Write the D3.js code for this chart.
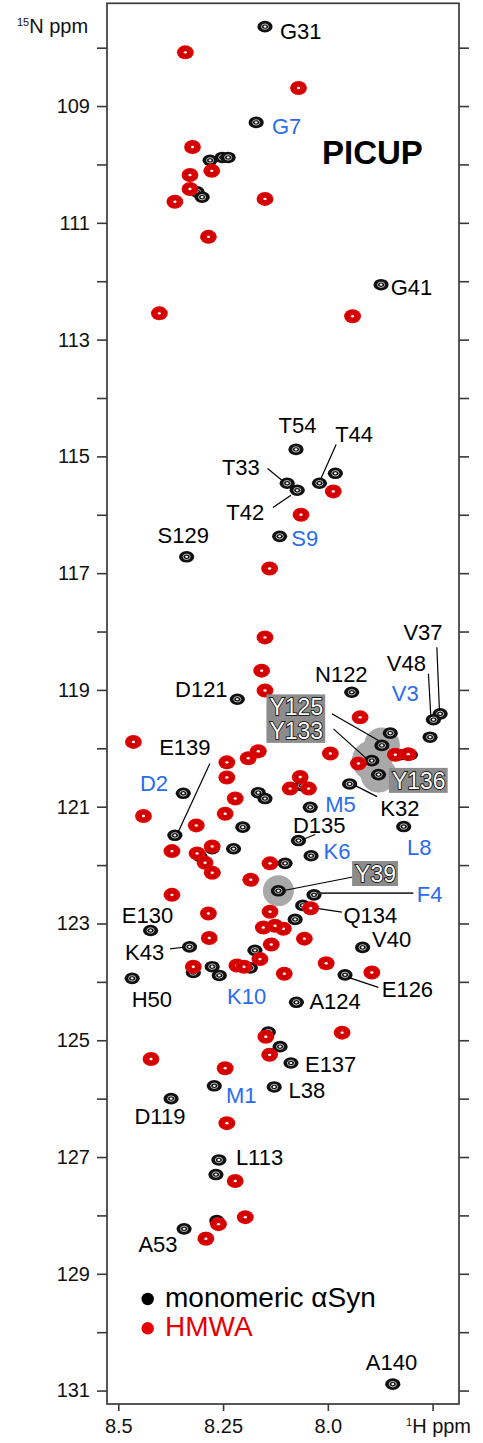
<!DOCTYPE html>
<html>
<head>
<meta charset="utf-8">
<script src="https://cdn.jsdelivr.net/npm/d3@7"></script>
<style>
  body { margin: 0; background: #fff; }
  svg { display: block; }
  text { font-family: "Liberation Sans", Arial, sans-serif; }
</style>
</head>
<body>
<svg id="chart" width="483" height="1443"></svg>
<script>
// 1H / 15N peak positions (ppm)
const monomerPeaks = [
  [8.150, 107.64], [8.171, 109.28], [8.323, 109.70], [8.281, 109.93], [8.252, 109.88],
  [8.238, 109.88], [8.277, 110.11], [8.329, 110.18], [8.329, 110.42], [8.312, 110.47],
  [8.300, 110.56], [8.365, 110.64], [8.150, 110.59], [8.285, 111.24], [7.873, 112.06],
  [8.402, 112.55], [7.941, 112.60], [8.076, 114.88], [8.097, 115.46], [8.073, 115.58],
  [8.020, 115.46], [7.982, 115.29], [7.987, 115.59], [8.064, 116.00], [8.115, 116.37],
  [8.139, 116.92], [8.337, 116.72], [8.150, 118.10], [8.158, 118.67], [8.150, 119.01],
  [8.216, 119.16], [7.943, 119.04], [7.732, 119.41], [7.748, 119.51], [7.756, 119.81],
  [7.923, 119.47], [7.851, 119.74], [7.871, 119.95], [7.827, 120.11], [7.803, 120.11],
  [7.895, 120.21], [7.879, 120.45], [7.948, 120.61], [7.927, 120.26], [7.994, 120.09],
  [8.062, 120.64], [8.042, 121.01], [7.819, 121.34], [8.070, 121.58], [8.040, 121.84],
  [8.464, 119.89], [8.241, 120.24], [8.241, 120.50], [8.345, 120.77], [8.221, 120.86],
  [8.166, 120.76], [8.150, 120.86], [8.440, 121.16], [8.245, 121.12], [8.203, 121.35],
  [8.314, 121.32], [8.365, 121.49], [8.372, 121.76], [8.305, 121.85], [8.276, 121.72],
  [8.274, 122.13], [8.225, 121.72], [8.138, 121.97], [8.102, 121.97], [8.184, 122.25],
  [8.118, 122.44], [8.033, 122.51], [8.060, 122.69], [8.372, 122.51], [8.285, 122.83],
  [8.423, 123.12], [8.330, 123.40], [8.283, 123.25], [8.138, 122.80], [8.078, 122.93],
  [8.154, 123.07], [8.107, 123.09], [8.135, 123.36], [8.174, 123.46], [7.917, 123.41],
  [8.321, 123.74], [8.321, 123.84], [8.276, 123.74], [8.259, 123.89], [8.467, 123.94],
  [8.217, 123.72], [8.185, 123.76], [8.162, 123.61], [7.959, 123.88], [7.895, 123.84],
  [8.075, 124.35], [8.142, 124.86], [8.114, 125.11], [8.138, 125.23], [7.966, 124.87],
  [8.422, 125.32], [8.088, 125.39], [8.245, 125.48], [8.271, 125.78], [8.128, 125.80],
  [8.374, 126.00], [8.241, 126.42], [8.260, 127.05], [8.267, 127.30], [8.221, 127.41],
  [8.343, 128.23], [8.265, 128.09], [8.197, 128.03], [8.291, 128.38], [7.845, 130.89]
];

const hmwaPeaks = [
  [8.340, 108.08], [8.070, 108.69], [8.323, 109.70], [8.277, 110.11], [8.329, 110.18],
  [8.329, 110.42], [8.365, 110.64], [8.150, 110.59], [8.285, 111.24], [8.402, 112.55],
  [7.941, 112.60], [7.987, 115.60], [8.064, 116.00], [8.139, 116.92], [8.150, 118.10],
  [8.158, 118.67], [8.150, 119.01], [7.923, 119.47], [7.839, 120.11], [7.808, 120.10],
  [7.927, 120.26], [7.994, 120.09], [8.090, 120.69], [8.066, 120.49], [8.046, 120.69],
  [8.464, 119.89], [8.190, 120.17], [8.166, 120.05], [8.241, 120.24], [8.241, 120.50],
  [8.221, 120.86], [8.440, 121.16], [8.245, 121.12], [8.314, 121.32], [8.372, 121.76],
  [8.312, 121.80], [8.276, 121.68], [8.276, 122.13], [8.293, 121.96], [8.138, 121.97],
  [8.184, 122.25], [8.041, 122.74], [8.372, 122.51], [8.285, 122.83], [8.138, 122.80],
  [8.154, 123.07], [8.106, 123.09], [8.126, 123.04], [8.056, 123.26], [8.135, 123.36],
  [8.283, 123.25], [8.321, 123.74], [8.217, 123.72], [8.200, 123.74], [8.162, 123.61],
  [8.104, 123.86], [8.004, 123.68], [7.895, 123.84], [7.966, 124.87], [8.148, 124.94],
  [8.139, 125.25], [8.422, 125.32], [8.245, 125.48], [8.241, 126.42], [8.221, 127.41],
  [8.261, 128.15], [8.197, 128.03], [8.291, 128.40]
];

// residue assignments of monomer peaks: name, 1H, 15N
const assignments = [
  ["G31", 8.150, 107.64], ["G7", 8.171, 109.28], ["G41", 7.873, 112.06],
  ["T54", 8.076, 114.88], ["T44", 8.020, 115.46], ["T33", 8.097, 115.46],
  ["T42", 8.073, 115.58], ["S9", 8.115, 116.37], ["S129", 8.337, 116.72],
  ["D121", 8.216, 119.16], ["N122", 7.943, 119.04], ["V37", 7.732, 119.41],
  ["V48", 7.748, 119.51], ["V3", 7.756, 119.81], ["Y125", 7.871, 119.95],
  ["Y133", 7.895, 120.21], ["Y136", 7.879, 120.45], ["K32", 7.948, 120.61],
  ["E139", 8.365, 121.49], ["D2", 8.345, 120.77], ["M5", 8.042, 121.01],
  ["L8", 7.819, 121.34], ["D135", 8.070, 121.58], ["K6", 8.040, 121.84],
  ["Y39", 8.118, 122.44], ["F4", 8.033, 122.51], ["Q134", 8.060, 122.69],
  ["V40", 7.917, 123.41], ["E126", 7.959, 123.88], ["A124", 8.075, 124.35],
  ["E130", 8.423, 123.12], ["K43", 8.330, 123.40], ["H50", 8.467, 123.94],
  ["K10", 8.259, 123.89], ["E137", 8.088, 125.39], ["M1", 8.271, 125.78],
  ["L38", 8.128, 125.80], ["D119", 8.374, 126.00], ["L113", 8.260, 127.05],
  ["A53", 8.343, 128.23], ["A140", 7.845, 130.89]
];

// tyrosines highlighted with grey discs
const highlighted = ["Y39", "Y125", "Y133", "Y136"];

const xTicks = [8.5, 8.25, 8.0, 7.75];
const xTickLabels = ["8.5", "8.25", "8.0", ""];
const yTicks = d3.range(108, 132);

// label placement (pixel offsets from the peak), leaders are [x1, y1, x2, y2] offsets
const labelLayout = {
  G31: { dx: 15, dy: 12 }, G7: { dx: 15.7, dy: 12 }, G41: { dx: 9.7, dy: 10 },
  T54: { dx: -17.4, dy: -16 },
  T44: { dx: 15.7, dy: -41.7, leader: [1.4, -4.4, 16.7, -38.7] },
  T33: { dx: -65.3, dy: -8, leader: [-5.3, -3, -19.7, -14.7] },
  T42: { dx: -71, dy: 29.3, leader: [-6.3, 5, -24.3, 17.3] },
  S9: { dx: 11.7, dy: 9.7 }, S129: { dx: -29, dy: -14 },
  D121: { dx: -62.3, dy: -2.3 }, N122: { dx: -36.7, dy: -10 },
  V37: { dx: -36.7, dy: -74, leader: [-0.7, -3.3, -3.3, -66.6] },
  V48: { dx: -46.6, dy: -48.6, leader: [-2.6, -3.3, -5, -46] },
  V3: { dx: -38.3, dy: -36 },
  Y125: { dx: -112.4, dy: -30, box: "a", leader: [-3.4, -5, -50, -31.7] },
  Y133: { dx: -102.4, dy: -21.7, box: "a", leader: [-5, -1.7, -38.4, -31.7] },
  Y136: { dx: 13.4, dy: 14.3, box: "b" },
  K32: { dx: 30.7, dy: 31.7, leader: [5.7, 1.7, 27.4, 12.7] },
  E139: { dx: -15.7, dy: -80, leader: [3.3, -3.3, 35, -71.7] },
  D2: { dx: -43.3, dy: -2 }, M5: { dx: 15, dy: 4.5 }, L8: { dx: 3.4, dy: 28.8 },
  D135: { dx: -5.6, dy: -7.5, leader: [3.7, -0.8, 16.7, -6] },
  K6: { dx: 12.5, dy: 3.3 },
  Y39: { dx: 76.7, dy: -8.8, box: "c", leader: [6.7, -0.5, 74.4, -13.8] },
  F4: { dx: 102.7, dy: 7.2, leader: [2.7, -1.8, 99.3, -1.8], heavy: true },
  Q134: { dx: 40.8, dy: 17.3, leader: [15.8, 3.3, 39.2, 6.7] },
  V40: { dx: 9.5, dy: 0 },
  E126: { dx: 36.7, dy: 22.5, leader: [3.3, 2.5, 33.3, 12.5] },
  A124: { dx: 13, dy: 6.6 }, E130: { dx: -28.8, dy: -7.3 },
  K43: { dx: -64.5, dy: 13, leader: [-6.2, 0.4, -19.5, 2] },
  H50: { dx: -0.5, dy: 28.7 }, K10: { dx: 7.7, dy: 28.3 },
  E137: { dx: 14, dy: 8.7 }, M1: { dx: 11.7, dy: 17.7 }, L38: { dx: 14.3, dy: 10.7 },
  D119: { dx: -36.7, dy: 25.6 }, L113: { dx: 17, dy: 5.3 },
  A53: { dx: -45.7, dy: 23.4 }, A140: { dx: -27, dy: -14 }
};

const blue = "#2a6cf0";
const red = "#e60000";

const svg = d3.select("#chart");

const x = d3.scaleLinear().domain([8.527, 7.687]).range([107, 459]);
const y = d3.scaleLinear().domain([107.24, 131.23]).range([3.3, 1404]);

// axes
const left = svg.append("g").attr("transform", "translate(107,0)")
  .call(d3.axisLeft(y).tickValues(yTicks).tickSize(10).tickPadding(7)
    .tickFormat(d => d % 2 ? d : ""));
const right = svg.append("g").attr("transform", "translate(459,0)")
  .call(d3.axisRight(y).tickValues(yTicks).tickSize(10).tickFormat(""));
const bottom = svg.append("g").attr("transform", "translate(0,1404)")
  .call(d3.axisBottom(x).tickValues(xTicks).tickSize(7).tickPadding(8)
    .tickFormat((d, i) => xTickLabels[i]));

[left, right, bottom].forEach(a => {
  a.select(".domain").remove();
  a.selectAll("line").attr("stroke", "#3a3a3a").attr("stroke-width", 1.6);
  a.selectAll("text").attr("font-size", 20).attr("fill", "#111")
    .attr("font-family", "Liberation Sans, Arial, sans-serif");
});

svg.append("rect")
  .attr("x", 107).attr("y", 3.3).attr("width", 352).attr("height", 1400.7)
  .attr("fill", "none").attr("stroke", "#3a3a3a").attr("stroke-width", 1.7);

// axis titles
const nTitle = svg.append("text").attr("x", 17).attr("y", 33.3).attr("font-size", 20).attr("fill", "#111");
nTitle.append("tspan").attr("font-size", 11).attr("dy", -7).text("15");
nTitle.append("tspan").attr("dy", 7).text("N ppm");
const hTitle = svg.append("text").attr("x", 406).attr("y", 1433.3).attr("font-size", 20).attr("fill", "#111");
hTitle.append("tspan").attr("font-size", 11).attr("dy", -7).text("1");
hTitle.append("tspan").attr("dy", 7).text("H ppm");

svg.append("text").attr("x", 322).attr("y", 164).attr("font-size", 33)
  .attr("font-weight", "bold").attr("fill", "#000").text("PICUP");

// grey highlight discs behind the tyrosine peaks
const byName = new Map(assignments.map(a => [a[0], a]));
const discR = { Y39: 15.5, Y125: 18, Y133: 20, Y136: 18 };
svg.append("g").selectAll("circle")
  .data(highlighted.map(n => byName.get(n)))
  .join("circle")
  .attr("cx", d => x(d[1])).attr("cy", d => y(d[2]))
  .attr("r", d => discR[d[0]])
  .attr("fill", "#a9a9a9");

// peaks
function drawPeaks(data, kind) {
  const g = svg.append("g").selectAll("g").data(data).join("g")
    .attr("transform", d => `translate(${x(d[0])},${y(d[1])})`);
  if (kind === "mono") {
    g.append("ellipse").attr("rx", 7.6).attr("ry", 5.8).attr("fill", "#111");
    g.append("ellipse").attr("rx", 3.6).attr("ry", 2.7).attr("fill", "none")
      .attr("stroke", "#fff").attr("stroke-width", 0.7);
    g.append("ellipse").attr("rx", 1.5).attr("ry", 1.1).attr("fill", "#fff");
  } else {
    g.append("ellipse").attr("rx", 8.4).attr("ry", 7).attr("fill", red);
    g.append("ellipse").attr("rx", 6).attr("ry", 4.9).attr("fill", "none")
      .attr("stroke", "#9a0000").attr("stroke-width", 0.6);
    g.append("ellipse").attr("rx", 3.8).attr("ry", 3).attr("fill", "none")
      .attr("stroke", "#9a0000").attr("stroke-width", 0.6);
    g.append("ellipse").attr("rx", 1.6).attr("ry", 1.2).attr("fill", "#fff");
  }
}
drawPeaks(monomerPeaks, "mono");
drawPeaks(hmwaPeaks, "hmwa");

// leader lines
const labelled = assignments.map(a => ({
  name: a[0], px: x(a[1]), py: y(a[2]), lay: labelLayout[a[0]],
  color: +a[0].slice(1) <= 10 ? blue : "#000"
}));

svg.append("g").selectAll("line")
  .data(labelled.filter(d => d.lay.leader))
  .join("line")
  .attr("x1", d => d.px + d.lay.leader[0]).attr("y1", d => d.py + d.lay.leader[1])
  .attr("x2", d => d.px + d.lay.leader[2]).attr("y2", d => d.py + d.lay.leader[3])
  .attr("stroke", d => d.lay.heavy ? "#333" : "#000")
  .attr("stroke-width", d => d.lay.heavy ? 1.8 : 1.2);

// labels
const boxLayer = svg.append("g");
const labelLayer = svg.append("g");
labelLayer.selectAll("text")
  .data(labelled)
  .join("text")
  .attr("x", d => d.px + d.lay.dx).attr("y", d => d.py + d.lay.dy)
  .attr("font-size", d => d.lay.box ? 23 : 22)
  .attr("fill", d => d.lay.box ? "#fff" : d.color)
  .attr("stroke", d => d.lay.box ? "#000" : null)
  .attr("stroke-width", d => d.lay.box ? 1.6 : null)
  .attr("paint-order", "stroke")
  .text(d => d.name);

// grey boxes behind boxed labels
const boxes = d3.group(labelLayer.selectAll("text").filter(d => d.lay.box).nodes(),
  n => d3.select(n).datum().lay.box);
boxes.forEach(nodes => {
  const bb = nodes.map(n => n.getBBox());
  const x0 = d3.min(bb, b => b.x) - 3, x1 = d3.max(bb, b => b.x + b.width) + 2;
  const y0 = d3.min(bb, b => b.y), y1 = d3.max(bb, b => b.y + b.height) - 1;
  boxLayer.append("rect").attr("x", x0).attr("y", y0)
    .attr("width", x1 - x0).attr("height", y1 - y0).attr("fill", "#8c8c8c");
});

// legend
const legend = svg.append("g");
const legendItems = [["monomeric \u03b1Syn", "#000"], ["HMWA", red]];
legendItems.forEach((it, i) => {
  legend.append("circle").attr("cx", 147.7).attr("cy", 1299 + i * 29.3).attr("r", 6.2).attr("fill", it[1]);
  legend.append("text").attr("x", 165).attr("y", 1307.3 + i * 28.4)
    .attr("font-size", 28).attr("fill", it[1]).text(it[0]);
});
</script>
</body>
</html>
